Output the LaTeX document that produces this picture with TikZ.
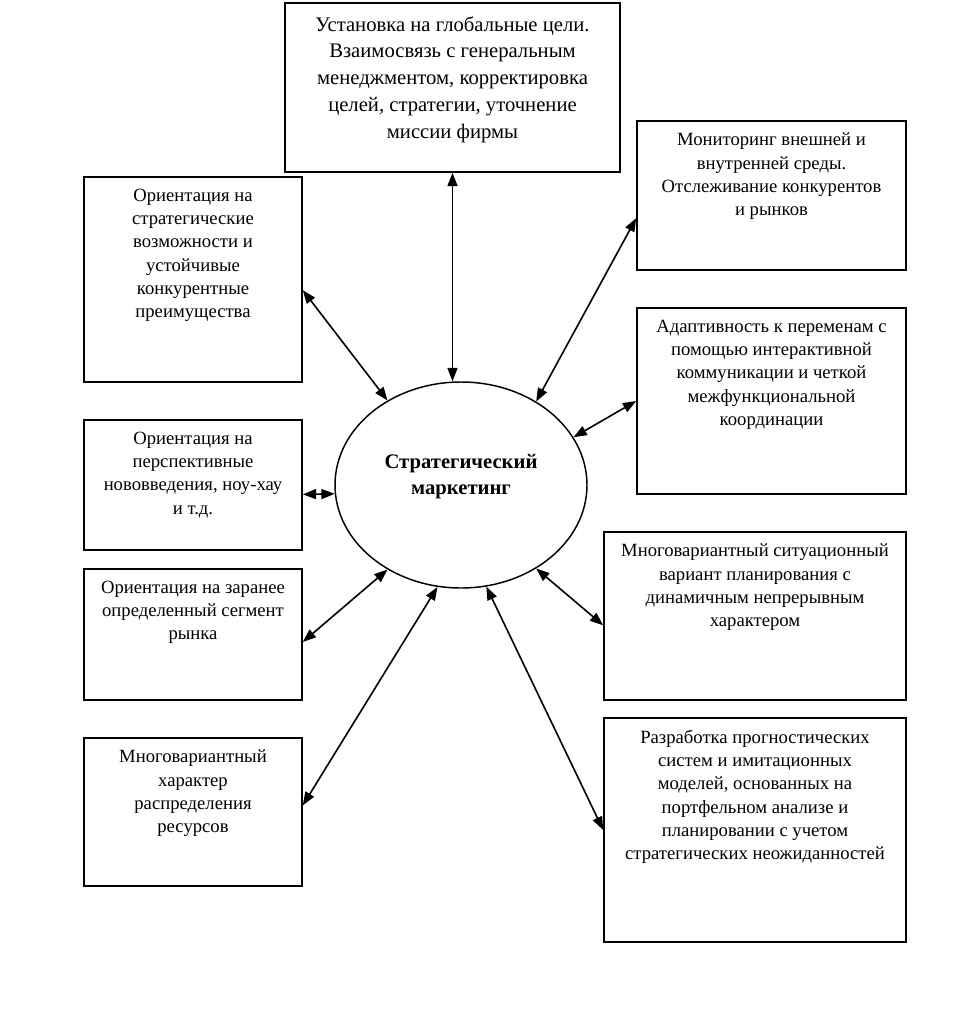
\documentclass[tikz,border=0pt]{standalone}
\usepackage{fontspec}
\setmainfont{Liberation Serif}
\usepackage{tikz}
\usetikzlibrary{shapes,arrows,positioning,calc,fit,arrows.meta}

\begin{document}
\begin{tikzpicture}[
    x=0.75pt, y=-0.75pt,
    font=\fontsize{14}{17.5}\selectfont,
    blok/.style={draw, line width=1.2pt, inner sep=0pt},
    txt/.style={anchor=north, yshift=-6pt, align=center},
    core/.style={ellipse, draw, line width=1.1pt, minimum width=189pt, minimum height=154.5pt, inner sep=0pt},
    link/.style={line width=1.2pt, {Triangle[length=10pt,width=7.5pt]}-{Triangle[length=10pt,width=7.5pt]}}
]
    \useasboundingbox (0,0) rectangle (975,1024);

    \node [core, label={[align=center, yshift=6pt, font=\fontsize{15.5}{19.5}\selectfont\bfseries]center:{Стратегический\\маркетинг}}] (sm) at (461,485) {};

    \node [blok, fit={(285,3) (620,172)}, label={[txt, yshift=-1pt, font=\fontsize{15.5}{20.2}\selectfont]north:{Установка на глобальные цели.\\Взаимосвязь с генеральным\\менеджментом, корректировка\\целей, стратегии, уточнение\\миссии фирмы}}] (top) {};

    \node [blok, fit={(84,177) (302,382)}, label={[txt]north:{Ориентация на\\стратегические\\возможности и\\устойчивые\\конкурентные\\преимущества}}] (l1) {};
    \node [blok, fit={(84,420) (302,550)}, label={[txt]north:{Ориентация на\\перспективные\\нововведения, ноу-хау\\и т.д.}}] (l2) {};
    \node [blok, fit={(84,569) (302,700)}, label={[txt]north:{Ориентация на заранее\\определенный сегмент\\рынка}}] (l3) {};
    \node [blok, fit={(84,738) (302,886)}, label={[txt]north:{Многовариантный\\характер\\распределения\\ресурсов}}] (l4) {};

    \node [blok, fit={(637,121) (906,270)}, label={[txt]north:{Мониторинг внешней и\\внутренней среды.\\Отслеживание конкурентов\\и рынков}}] (r1) {};
    \node [blok, fit={(637,308) (906,494)}, label={[txt]north:{Адаптивность к переменам с\\помощью интерактивной\\коммуникации и четкой\\межфункциональной\\координации}}] (r2) {};
    \node [blok, fit={(604,532) (906,700)}, label={[txt]north:{Многовариантный ситуационный\\вариант планирования с\\динамичным непрерывным\\характером}}] (r3) {};
    \node [blok, fit={(604,718) (906,942)}, label={[txt]north:{Разработка прогностических\\систем и имитационных\\моделей, основанных на\\портфельном анализе и\\планировании с учетом\\стратегических неожиданностей}}] (r4) {};

    \draw [link] (top.south) -- (top.south |- sm.north);
    \draw [link] ([yshift=-8pt]l1.east) -- (sm.131);
    \draw [link] ([yshift=-7pt]l2.east) -- (sm.184);
    \draw [link] ([yshift=-5.6pt]l3.east) -- (sm.229);
    \draw [link] ([yshift=5pt]l4.east) -- (sm.257);
    \draw [link] (sm.284) -- (r4.west);
    \draw [link] (sm.312) -- ([yshift=-7pt]r3.west);
    \draw [link] (sm.23.6) -- (r2.west);
    \draw [link] (sm.48.5) -- ([yshift=-17pt]r1.west);
\end{tikzpicture}
\end{document}
